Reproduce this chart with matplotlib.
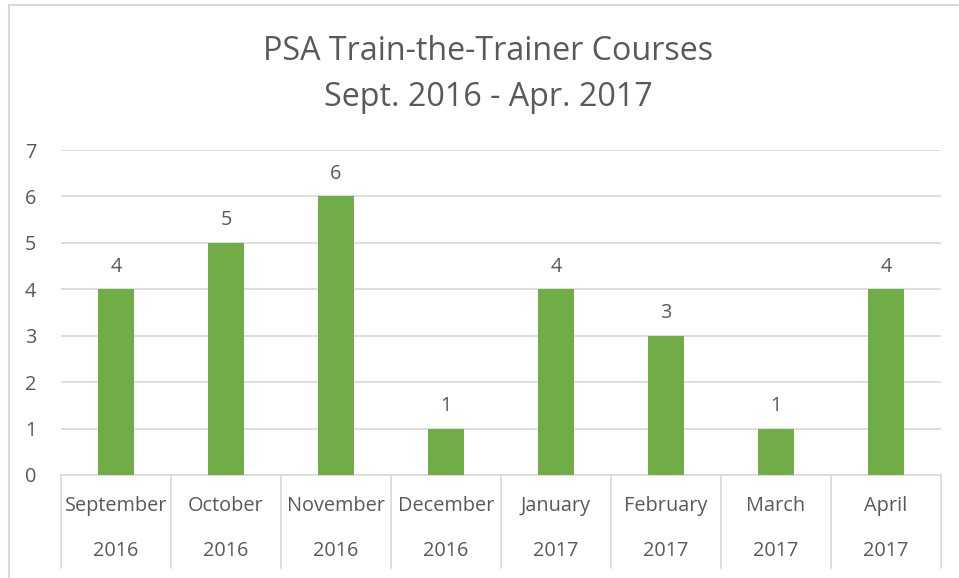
import matplotlib
matplotlib.use("Agg")
import matplotlib.pyplot as plt
from matplotlib.patches import Rectangle
from matplotlib.lines import Line2D
import matplotlib.transforms as mtransforms

months = ["September", "October", "November", "December", "January", "February", "March", "April"]
years = ["2016", "2016", "2016", "2016", "2017", "2017", "2017", "2017"]
courses = [4, 5, 6, 1, 4, 3, 1, 4]
yticks = [0, 1, 2, 3, 4, 5, 6, 7]

TEXT = "#595959"
GRID = "#D9D9D9"
BAR = "#70AD47"
plt.rcParams['font.family'] = ['Open Sans', 'DejaVu Sans']

W, H = 959, 578
FS = 14.3
fig = plt.figure(figsize=(W / 100, H / 100), dpi=100)
fig.patch.set_facecolor("white")

# chart border
fig.add_artist(Rectangle((8.5 / W, -0.1), 1.2, (H - 5.5) / H + 0.1, transform=fig.transFigure,
                         fill=False, edgecolor=GRID, lw=1.5))

ax = fig.add_axes([61 / W, (H - 475) / H, 880 / W, 325 / H])
x = list(range(len(months)))
bars = ax.bar(x, courses, width=0.33, color=BAR, zorder=3)
ax.bar_label(bars, labels=[str(v) for v in courses], padding=9, color=TEXT, fontsize=FS)

ax.set_xlim(-0.5, len(months) - 0.5)
ax.set_ylim(0, 7)
ax.set_yticks(yticks)
ax.set_yticklabels([str(t) for t in yticks], fontsize=FS, color=TEXT)
ax.tick_params(axis="y", length=0, pad=18)
ax.tick_params(axis="x", length=0, labelbottom=False)
ax.grid(axis="y", color=GRID, lw=1.2, zorder=0)
for s in ["top", "right", "left"]:
    ax.spines[s].set_visible(False)
ax.spines["bottom"].set_color(GRID)
ax.spines["bottom"].set_linewidth(1.2)

trans = mtransforms.blended_transform_factory(ax.transData, ax.transAxes)
ax_h = 325
for i, (m, yv) in enumerate(zip(months, years)):
    ax.text(i, -(506 - 475) / ax_h, m, transform=trans, ha="center", va="center",
            fontsize=FS, color=TEXT)
    ax.text(i, -(551 - 475) / ax_h, yv, transform=trans, ha="center", va="center",
            fontsize=FS, color=TEXT)
for b in range(len(months) + 1):
    ax.add_line(Line2D([b - 0.5, b - 0.5], [0, -(568 - 475) / ax_h], transform=trans,
                       color=GRID, lw=1.2, clip_on=False))

fig.text(488 / W, 1 - 51 / H, "PSA Train-the-Trainer Courses", ha="center", va="center",
         fontsize=23.2, color=TEXT)
fig.text(488 / W, 1 - 98 / H, "Sept. 2016 - Apr. 2017", ha="center", va="center",
         fontsize=23.2, color=TEXT)

fig.savefig("out.png", dpi=100, facecolor="white")
